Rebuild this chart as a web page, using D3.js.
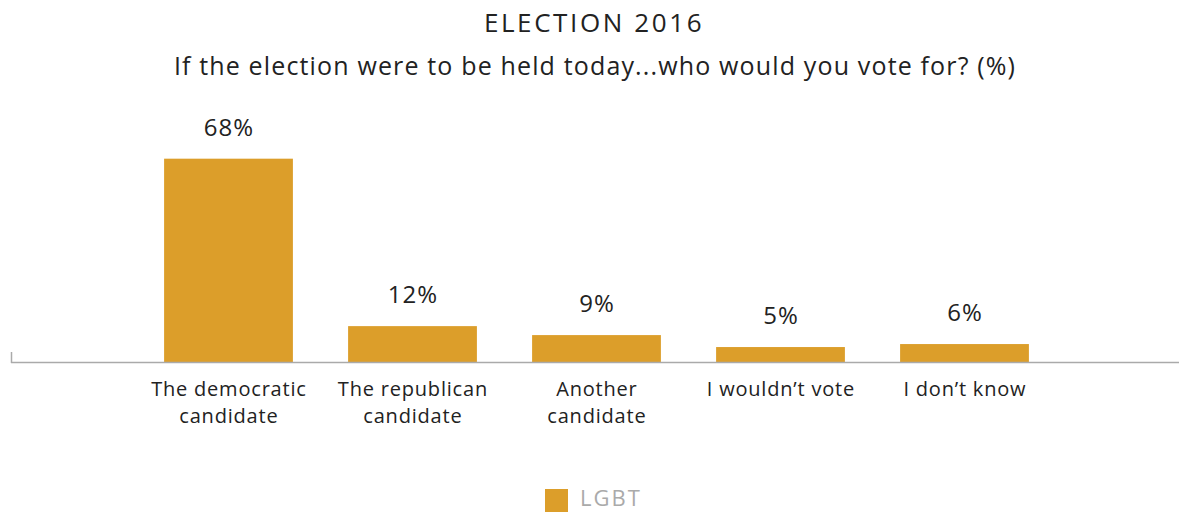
<!DOCTYPE html>
<html><head><meta charset="utf-8">
<script src="https://cdn.jsdelivr.net/npm/d3@7"></script>
<style>
body{margin:0;background:#fff;}
text{font-family:"Open Sans","Lato",sans-serif;}
</style></head>
<body><svg id="c" width="1179" height="512"></svg>
<script>
const categories = [["The democratic","candidate"],["The republican","candidate"],["Another","candidate"],["I wouldn’t vote"],["I don’t know"]];
const values = [68, 12, 9, 5, 6];
const seriesName = "LGBT";
const title = "ELECTION 2016";
const subtitle = "If the election were to be held today...who would you vote for? (%)";

const svg = d3.select("#c");
const color = "#DC9E2A";
const x = d3.scaleBand().domain(d3.range(categories.length)).range([136.5, 1056.5]).paddingInner(0.3).paddingOuter(0.15);
const y = d3.scaleLinear().domain([0, 100]).range([362, 63]);

svg.append("text").attr("x", 594).attr("y", 32).attr("text-anchor","middle").attr("font-size",26)
  .attr("letter-spacing",2.6).attr("fill","#222").text(title);
svg.append("text").attr("x", 595).attr("y", 75).attr("text-anchor","middle").attr("font-size",25)
  .attr("letter-spacing",1.15).attr("fill","#222").text(subtitle);

svg.selectAll("rect.bar").data(values).join("rect").attr("class","bar")
  .attr("x",(d,i)=>x(i)).attr("width",x.bandwidth())
  .attr("y",d=>y(d)).attr("height",d=>y(0)-y(d)).attr("fill",color);

svg.selectAll("text.val").data(values).join("text").attr("class","val")
  .attr("x",(d,i)=>x(i)+x.bandwidth()/2+0.5).attr("y",d=>y(d)-23)
  .attr("text-anchor","middle").attr("font-size",24).attr("letter-spacing",1).attr("fill","#222").text(d=>d+"%");

// axis
svg.append("line").attr("x1",11).attr("x2",1179).attr("y1",362.5).attr("y2",362.5).attr("stroke","#aaa").attr("stroke-width",1.5);
svg.append("line").attr("x1",11.5).attr("x2",11.5).attr("y1",352).attr("y2",363).attr("stroke","#aaa").attr("stroke-width",1.5);

const cat = svg.selectAll("text.cat").data(categories).join("text").attr("class","cat")
  .attr("x",(d,i)=>x(i)+x.bandwidth()/2+0.4).attr("y",396).attr("text-anchor","middle").attr("font-size",20)
  .attr("letter-spacing",0.8).attr("fill","#222");
cat.selectAll("tspan").data(d=>d).join("tspan").attr("x",function(){return this.parentNode.getAttribute("x");})
  .attr("dy",(d,i)=>i?27:0).text(d=>d);

svg.append("rect").attr("x",545).attr("y",489).attr("width",23).attr("height",23).attr("fill",color);
svg.append("text").attr("x",580).attr("y",506).attr("font-size",22).attr("letter-spacing",2).attr("fill","#aaa").text(seriesName);
</script></body></html>
